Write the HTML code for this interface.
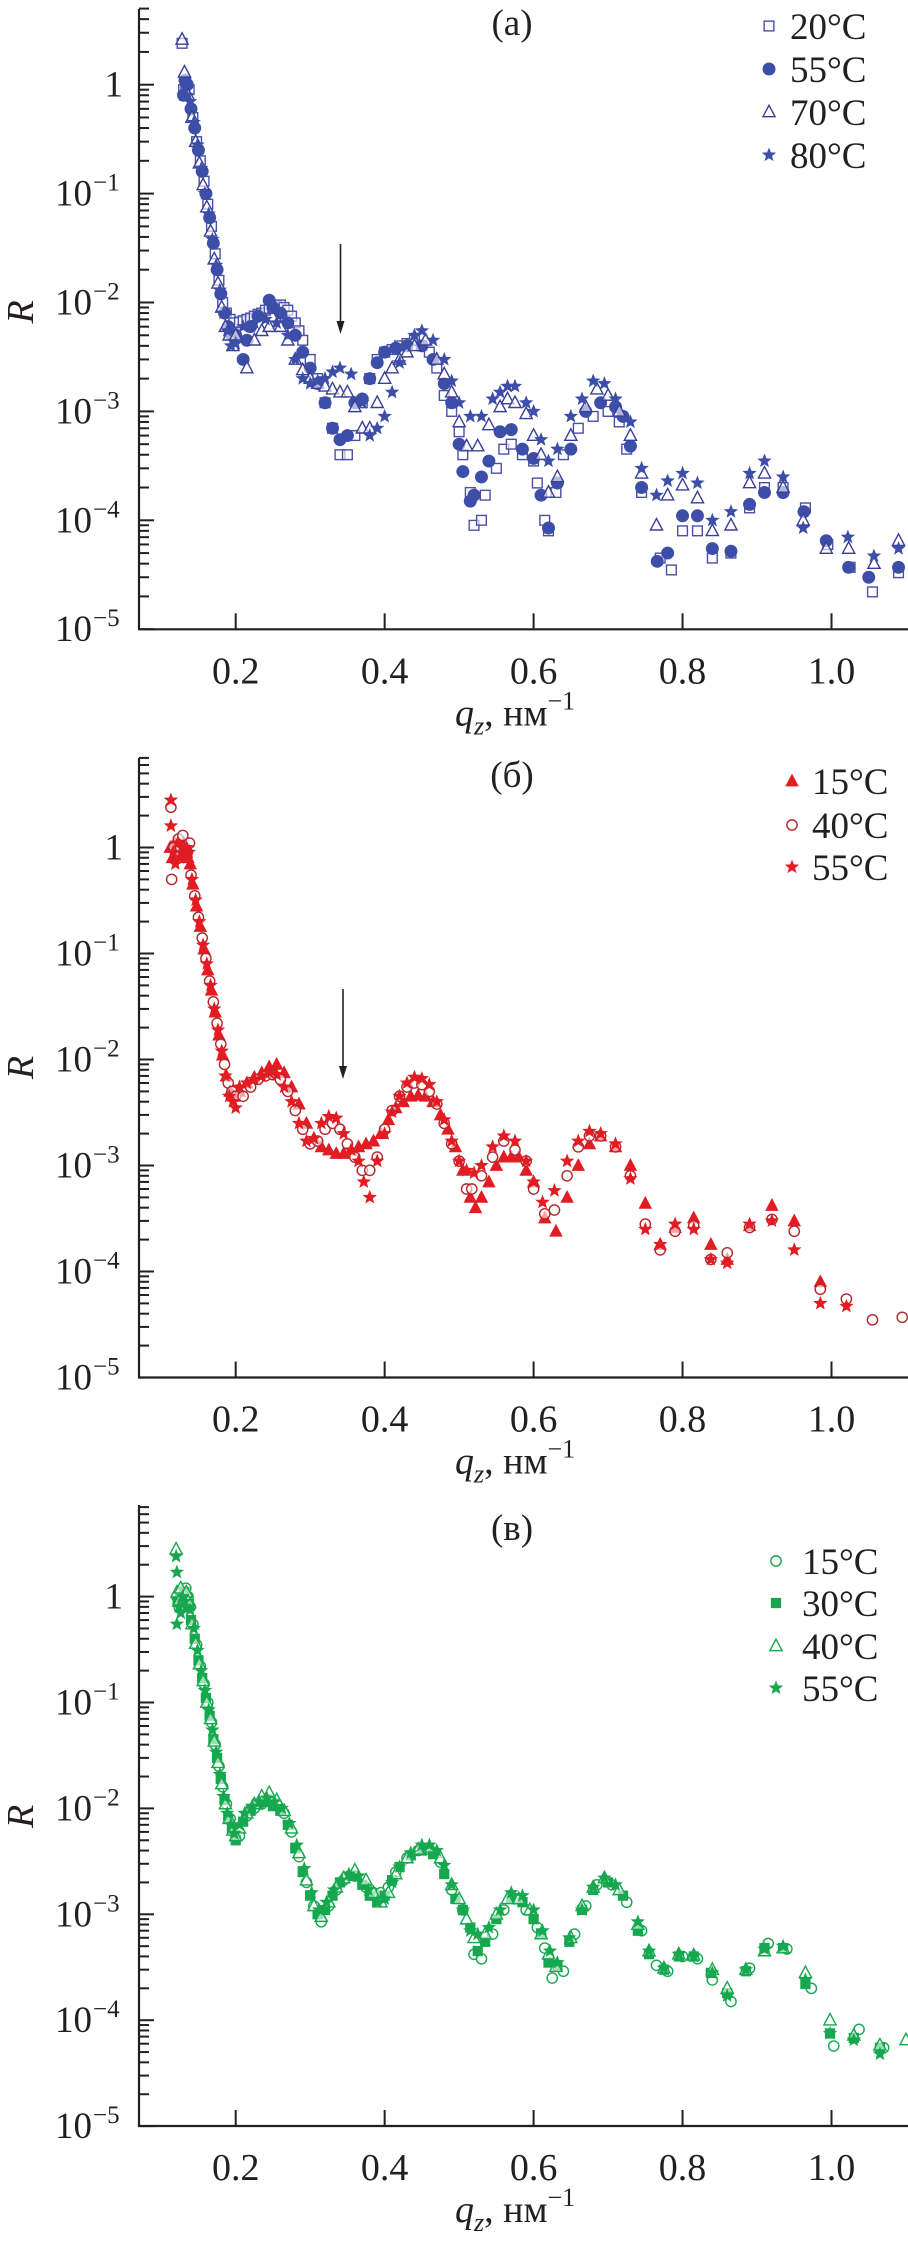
<!DOCTYPE html>
<html><head><meta charset="utf-8"><style>
html,body{margin:0;padding:0;background:#fff}
svg{display:block}
text{font-family:"Liberation Serif",serif;fill:#231f20}
</style></head><body>
<svg id="fig" width="908" height="2251" viewBox="0 0 908 2251" xmlns="http://www.w3.org/2000/svg"></svg>
<script>
// ---------- data: [q (nm^-1), R] ----------
const xTicks=[0.2,0.4,0.6,0.8,1.0];
const xTickLabels=["0.2","0.4","0.6","0.8","1.0"];
const yDecades=[0,-1,-2,-3,-4,-5];
const yTickLabels=["1","10","10","10","10","10"];
const yTickSups=["","−1","−2","−3","−4","−5"];

const a20=[[0.128,2.4],[0.13,0.9],[0.133,1.0],[0.1375,0.9],[0.1425,0.5],[0.1475,0.3],[0.1525,0.2],[0.1575,0.13],[0.1625,0.08],[0.1675,0.05],[0.1725,0.028],[0.1775,0.016],[0.1825,0.01],[0.1875,0.008],[0.1925,0.007],[0.1975,0.0065],[0.205,0.0066],[0.21,0.0068],[0.215,0.007],[0.22,0.0072],[0.225,0.0075],[0.23,0.0078],[0.235,0.008],[0.24,0.0085],[0.245,0.0088],[0.25,0.009],[0.255,0.0093],[0.26,0.0095],[0.265,0.009],[0.27,0.0085],[0.275,0.0075],[0.28,0.0065],[0.285,0.0055],[0.29,0.0045],[0.30,0.003],[0.31,0.002],[0.32,0.0012],[0.33,0.0007],[0.34,0.0004],[0.35,0.0004],[0.36,0.0006],[0.37,0.0012],[0.38,0.002],[0.39,0.003],[0.40,0.0035],[0.41,0.0037],[0.42,0.004],[0.43,0.0042],[0.44,0.0045],[0.45,0.004],[0.46,0.0035],[0.47,0.0025],[0.48,0.0014],[0.49,0.001],[0.50,0.00065],[0.505,0.0004],[0.515,0.00018],[0.52,0.00009],[0.53,0.0001],[0.535,0.00017],[0.55,0.0003],[0.56,0.00045],[0.57,0.0005],[0.585,0.0004],[0.6,0.00035],[0.605,0.00022],[0.615,0.0001],[0.62,0.00008],[0.63,0.00018],[0.64,0.0004],[0.66,0.0007],[0.68,0.0009],[0.70,0.001],[0.715,0.0008],[0.725,0.00045],[0.745,0.00018],[0.77,0.000045],[0.785,0.000035],[0.8,0.00008],[0.82,0.00008],[0.84,0.000045],[0.865,0.00005],[0.89,0.00013],[0.91,0.0002],[0.935,0.0002],[0.965,0.00013],[0.995,0.00006],[1.025,0.000037],[1.055,0.000022],[1.09,0.000033]];
const a55=[[0.13,0.8],[0.132,1.1],[0.135,1.0],[0.14,0.6],[0.145,0.4],[0.15,0.25],[0.155,0.16],[0.16,0.1],[0.165,0.06],[0.17,0.035],[0.175,0.02],[0.18,0.012],[0.185,0.008],[0.19,0.006],[0.195,0.005],[0.2,0.005],[0.21,0.003],[0.215,0.0045],[0.22,0.006],[0.23,0.0075],[0.245,0.0105],[0.25,0.009],[0.26,0.008],[0.27,0.0065],[0.28,0.005],[0.29,0.0035],[0.3,0.0025],[0.31,0.0018],[0.32,0.0012],[0.33,0.0007],[0.34,0.00055],[0.35,0.0006],[0.36,0.0012],[0.37,0.0013],[0.38,0.002],[0.39,0.0028],[0.40,0.0035],[0.415,0.0038],[0.43,0.004],[0.45,0.004],[0.465,0.003],[0.48,0.0018],[0.49,0.0012],[0.5,0.0005],[0.505,0.00028],[0.515,0.00015],[0.52,0.00017],[0.53,0.00025],[0.54,0.00035],[0.555,0.00065],[0.57,0.00068],[0.585,0.00045],[0.6,0.00037],[0.61,0.00017],[0.62,0.000085],[0.632,0.00022],[0.65,0.00045],[0.67,0.001],[0.69,0.0012],[0.71,0.0011],[0.72,0.0009],[0.73,0.00048],[0.745,0.0002],[0.766,0.000042],[0.78,0.00005],[0.8,0.00011],[0.82,0.00011],[0.84,0.000055],[0.865,0.000052],[0.89,0.00014],[0.91,0.00018],[0.935,0.00018],[0.963,0.00012],[0.993,0.000065],[1.023,0.000037],[1.05,0.00003],[1.09,0.000037]];
const a70=[[0.128,2.6],[0.1312,1.3],[0.1362,0.8],[0.1412,0.5],[0.1462,0.3],[0.1512,0.19],[0.1562,0.12],[0.1612,0.075],[0.1662,0.045],[0.1712,0.025],[0.1762,0.015],[0.1812,0.009],[0.1862,0.006],[0.1912,0.005],[0.1962,0.004],[0.2,0.005],[0.215,0.0025],[0.225,0.0045],[0.235,0.0055],[0.245,0.006],[0.26,0.006],[0.27,0.0045],[0.28,0.003],[0.29,0.0024],[0.3,0.002],[0.31,0.0018],[0.32,0.0017],[0.33,0.0016],[0.34,0.0015],[0.35,0.0015],[0.36,0.0011],[0.37,0.0007],[0.38,0.0007],[0.39,0.0012],[0.40,0.002],[0.41,0.0025],[0.42,0.003],[0.43,0.0035],[0.44,0.004],[0.455,0.0045],[0.47,0.003],[0.48,0.0022],[0.49,0.0015],[0.5,0.0008],[0.51,0.00048],[0.525,0.00048],[0.54,0.00075],[0.555,0.0011],[0.565,0.0013],[0.575,0.0012],[0.59,0.00095],[0.6,0.0006],[0.61,0.0004],[0.62,0.00018],[0.632,0.00025],[0.65,0.0006],[0.67,0.0011],[0.685,0.0016],[0.7,0.0014],[0.715,0.001],[0.73,0.0006],[0.745,0.00027],[0.765,0.00009],[0.78,0.00017],[0.8,0.00021],[0.82,0.00016],[0.84,0.00008],[0.865,0.00009],[0.89,0.00022],[0.91,0.00027],[0.935,0.0002],[0.962,0.0001],[0.993,0.000055],[1.023,0.000055],[1.057,0.00004],[1.09,0.000065]];
const a80=[[0.13,0.8],[0.1337,0.8],[0.1387,0.7],[0.1437,0.45],[0.1487,0.28],[0.1537,0.17],[0.1587,0.1],[0.1637,0.065],[0.1687,0.038],[0.1737,0.022],[0.1787,0.013],[0.1837,0.008],[0.1887,0.0055],[0.1937,0.004],[0.2,0.0042],[0.21,0.006],[0.225,0.0065],[0.24,0.007],[0.255,0.0065],[0.27,0.005],[0.28,0.003],[0.29,0.002],[0.3,0.0018],[0.31,0.0019],[0.32,0.002],[0.33,0.0023],[0.34,0.0025],[0.355,0.0022],[0.37,0.0012],[0.38,0.0006],[0.39,0.0007],[0.4,0.0009],[0.41,0.0015],[0.42,0.0028],[0.43,0.004],[0.44,0.005],[0.45,0.0055],[0.465,0.0045],[0.48,0.003],[0.49,0.0019],[0.5,0.0012],[0.515,0.0009],[0.53,0.0009],[0.545,0.0013],[0.555,0.0015],[0.565,0.0017],[0.575,0.0017],[0.59,0.0012],[0.6,0.001],[0.61,0.00055],[0.62,0.00035],[0.632,0.00045],[0.65,0.0009],[0.665,0.0013],[0.68,0.0019],[0.695,0.0018],[0.71,0.0013],[0.73,0.0008],[0.745,0.0003],[0.765,0.00017],[0.78,0.00023],[0.8,0.00027],[0.82,0.00022],[0.84,0.0001],[0.865,0.00012],[0.89,0.00027],[0.91,0.00035],[0.935,0.00025],[0.962,0.000085],[1.022,0.00007],[1.057,0.000047],[1.09,0.000055]];

const b15=[[0.112,1.0],[0.115,0.8],[0.118,1.1],[0.121,0.9],[0.124,1.0],[0.127,0.85],[0.13,1.1],[0.133,0.9],[0.136,0.8],[0.139,0.7],[0.1425,0.45],[0.1475,0.28],[0.1525,0.18],[0.1575,0.11],[0.1625,0.07],[0.1675,0.045],[0.1725,0.028],[0.1775,0.017],[0.1825,0.011],[0.1875,0.007],[0.1925,0.005],[0.1975,0.0045],[0.205,0.005],[0.215,0.006],[0.225,0.0068],[0.235,0.0075],[0.245,0.0085],[0.255,0.009],[0.265,0.0075],[0.275,0.0055],[0.285,0.0038],[0.295,0.0025],[0.305,0.0018],[0.315,0.0015],[0.325,0.0014],[0.335,0.0013],[0.345,0.0013],[0.355,0.0014],[0.365,0.0015],[0.375,0.0016],[0.385,0.0017],[0.395,0.002],[0.405,0.0027],[0.415,0.0035],[0.425,0.004],[0.435,0.0045],[0.445,0.0046],[0.455,0.0045],[0.465,0.004],[0.475,0.003],[0.485,0.0022],[0.495,0.0015],[0.505,0.0009],[0.515,0.0005],[0.522,0.0004],[0.53,0.0005],[0.54,0.0007],[0.55,0.001],[0.56,0.0012],[0.57,0.0012],[0.58,0.0012],[0.59,0.0009],[0.60,0.0007],[0.615,0.00032],[0.63,0.00024],[0.645,0.0005],[0.66,0.001],[0.675,0.0016],[0.69,0.0019],[0.71,0.0015],[0.73,0.001],[0.75,0.00044],[0.77,0.00018],[0.79,0.00026],[0.815,0.00032],[0.838,0.00018],[0.86,0.00013],[0.89,0.00027],[0.92,0.00042],[0.95,0.0003],[0.985,0.00008]];
const b40=[[0.113,2.4],[0.114,0.5],[0.117,1.0],[0.12,0.9],[0.123,1.2],[0.126,1.0],[0.129,1.3],[0.132,1.0],[0.135,0.9],[0.138,1.1],[0.14,0.55],[0.145,0.35],[0.15,0.22],[0.155,0.14],[0.16,0.09],[0.165,0.055],[0.17,0.035],[0.175,0.022],[0.18,0.014],[0.185,0.009],[0.19,0.006],[0.195,0.005],[0.2,0.0045],[0.21,0.0045],[0.22,0.0055],[0.23,0.0065],[0.24,0.007],[0.25,0.0072],[0.26,0.0065],[0.27,0.005],[0.28,0.0033],[0.29,0.0022],[0.3,0.0016],[0.31,0.0017],[0.32,0.0022],[0.33,0.0025],[0.34,0.0022],[0.35,0.0016],[0.36,0.0012],[0.37,0.0009],[0.38,0.0009],[0.39,0.0012],[0.4,0.0022],[0.41,0.0033],[0.42,0.0045],[0.43,0.0055],[0.44,0.006],[0.45,0.0058],[0.46,0.005],[0.47,0.0038],[0.48,0.0025],[0.49,0.0016],[0.5,0.0011],[0.51,0.0006],[0.517,0.0006],[0.53,0.0008],[0.545,0.0012],[0.56,0.0017],[0.575,0.0014],[0.59,0.0011],[0.6,0.0006],[0.615,0.00035],[0.628,0.00038],[0.645,0.0008],[0.66,0.0015],[0.675,0.0019],[0.69,0.0019],[0.71,0.0015],[0.73,0.0008],[0.75,0.00028],[0.77,0.00016],[0.79,0.00024],[0.815,0.00027],[0.838,0.00013],[0.86,0.00015],[0.89,0.00026],[0.92,0.00031],[0.95,0.00024],[0.985,0.000068],[1.02,0.000055],[1.055,0.000035],[1.095,0.000037]];
const b55=[[0.113,2.8],[0.113,1.6],[0.116,0.9],[0.119,0.7],[0.122,1.1],[0.125,0.8],[0.128,1.0],[0.131,0.8],[0.134,1.0],[0.137,0.9],[0.1412,0.5],[0.1462,0.32],[0.1512,0.2],[0.1562,0.12],[0.1612,0.08],[0.1662,0.05],[0.1712,0.03],[0.1762,0.019],[0.1812,0.012],[0.1862,0.007],[0.1912,0.0045],[0.1962,0.004],[0.2,0.0035],[0.205,0.0055],[0.215,0.006],[0.225,0.0065],[0.235,0.007],[0.245,0.0075],[0.255,0.0072],[0.265,0.0055],[0.275,0.004],[0.285,0.0025],[0.295,0.0017],[0.305,0.0018],[0.315,0.0025],[0.325,0.0029],[0.335,0.0028],[0.345,0.002],[0.355,0.0014],[0.365,0.0011],[0.372,0.0007],[0.38,0.0005],[0.39,0.0011],[0.4,0.002],[0.41,0.0032],[0.42,0.0045],[0.43,0.006],[0.44,0.0068],[0.45,0.0066],[0.46,0.0058],[0.47,0.004],[0.48,0.0027],[0.49,0.0017],[0.5,0.0011],[0.51,0.0009],[0.52,0.00085],[0.53,0.001],[0.545,0.0015],[0.56,0.0019],[0.575,0.0017],[0.59,0.0011],[0.6,0.0007],[0.612,0.00045],[0.628,0.00058],[0.645,0.0011],[0.66,0.0017],[0.675,0.0021],[0.69,0.002],[0.71,0.0016],[0.73,0.00075],[0.75,0.00025],[0.77,0.00018],[0.79,0.00028],[0.815,0.00025],[0.838,0.00013],[0.86,0.00012],[0.89,0.00028],[0.92,0.0003],[0.95,0.00016],[0.985,0.00005],[1.02,0.000047]];

const c15=[[0.121,1.0],[0.124,0.8],[0.127,1.1],[0.13,0.9],[0.133,1.2],[0.136,1.0],[0.139,0.8],[0.1425,0.55],[0.1475,0.35],[0.1525,0.22],[0.1575,0.15],[0.1625,0.1],[0.1675,0.065],[0.1725,0.04],[0.1775,0.025],[0.1825,0.016],[0.1875,0.011],[0.1925,0.008],[0.1975,0.006],[0.205,0.0055],[0.215,0.0085],[0.225,0.01],[0.235,0.011],[0.245,0.012],[0.255,0.011],[0.265,0.009],[0.275,0.006],[0.285,0.0035],[0.295,0.002],[0.305,0.0012],[0.315,0.00085],[0.325,0.0012],[0.335,0.0017],[0.345,0.0021],[0.36,0.0023],[0.375,0.0018],[0.385,0.0016],[0.395,0.0016],[0.405,0.0018],[0.415,0.0025],[0.43,0.0034],[0.445,0.004],[0.46,0.0041],[0.475,0.0031],[0.49,0.0017],[0.505,0.0011],[0.52,0.00042],[0.53,0.00038],[0.545,0.00065],[0.56,0.0011],[0.575,0.0014],[0.59,0.0011],[0.605,0.00075],[0.615,0.00048],[0.625,0.00025],[0.64,0.00029],[0.655,0.00065],[0.67,0.0012],[0.685,0.0019],[0.705,0.0019],[0.725,0.0013],[0.745,0.0007],[0.765,0.00033],[0.78,0.00029],[0.8,0.0004],[0.82,0.00038],[0.84,0.00024],[0.865,0.00015],[0.89,0.00031],[0.915,0.00053],[0.94,0.00047],[0.973,0.0002],[1.003,0.000057],[1.037,0.000082],[1.07,0.000055]];
const c30=[[0.122,0.9],[0.125,1.0],[0.128,0.8],[0.131,1.1],[0.134,0.9],[0.137,0.85],[0.14,0.6],[0.145,0.4],[0.15,0.25],[0.155,0.17],[0.16,0.11],[0.165,0.075],[0.17,0.045],[0.175,0.03],[0.18,0.019],[0.185,0.012],[0.19,0.008],[0.195,0.0065],[0.2,0.005],[0.21,0.0075],[0.22,0.0095],[0.23,0.011],[0.24,0.0115],[0.25,0.0105],[0.26,0.0095],[0.27,0.007],[0.28,0.0042],[0.29,0.0025],[0.3,0.0015],[0.31,0.001],[0.32,0.0011],[0.33,0.0015],[0.34,0.002],[0.355,0.0023],[0.37,0.0019],[0.38,0.0015],[0.39,0.0013],[0.4,0.0015],[0.41,0.0021],[0.42,0.0028],[0.435,0.0036],[0.45,0.004],[0.465,0.0037],[0.48,0.0024],[0.495,0.0014],[0.505,0.0011],[0.515,0.00075],[0.525,0.00045],[0.535,0.00055],[0.55,0.0009],[0.57,0.0014],[0.585,0.0013],[0.6,0.0009],[0.61,0.00065],[0.62,0.00035],[0.632,0.00032],[0.648,0.00055],[0.665,0.0011],[0.68,0.0017],[0.7,0.002],[0.72,0.0015],[0.74,0.0007],[0.755,0.00042],[0.775,0.0003],[0.795,0.0004],[0.815,0.0004],[0.838,0.00028],[0.86,0.00018],[0.885,0.00029],[0.91,0.00048],[0.935,0.00048],[0.965,0.00022],[0.998,0.000075],[1.03,0.000068],[1.065,0.000055]];
const c40=[[0.12,2.8],[0.1212,1.1],[0.1237,0.9],[0.1262,1.2],[0.1287,0.8],[0.1312,1.0],[0.1337,1.1],[0.1362,0.9],[0.1412,0.55],[0.1462,0.36],[0.1512,0.23],[0.1562,0.16],[0.1612,0.1],[0.1662,0.07],[0.1712,0.043],[0.1762,0.027],[0.1812,0.017],[0.1862,0.011],[0.1912,0.008],[0.1962,0.0062],[0.2,0.0055],[0.205,0.0065],[0.215,0.009],[0.225,0.011],[0.235,0.013],[0.245,0.014],[0.255,0.012],[0.265,0.0095],[0.275,0.0065],[0.285,0.0038],[0.295,0.0021],[0.305,0.0012],[0.315,0.00095],[0.325,0.0013],[0.335,0.0018],[0.345,0.0022],[0.36,0.0026],[0.375,0.0021],[0.385,0.0016],[0.395,0.0013],[0.405,0.0016],[0.415,0.0024],[0.43,0.0034],[0.445,0.0041],[0.46,0.0043],[0.475,0.0034],[0.49,0.0019],[0.5,0.0014],[0.51,0.0009],[0.52,0.0006],[0.535,0.00065],[0.55,0.001],[0.565,0.0014],[0.58,0.0014],[0.595,0.0011],[0.61,0.00065],[0.62,0.00042],[0.63,0.00032],[0.65,0.0006],[0.665,0.0012],[0.68,0.0018],[0.695,0.0022],[0.715,0.0017],[0.74,0.0008],[0.755,0.00045],[0.775,0.00031],[0.795,0.00042],[0.815,0.00041],[0.84,0.0003],[0.86,0.0002],[0.885,0.0003],[0.91,0.00045],[0.935,0.00048],[0.965,0.00028],[0.998,0.0001],[1.03,0.000072],[1.065,0.000058],[1.1,0.000065]];
const c55=[[0.12,2.4],[0.121,1.7],[0.121,0.55],[0.1237,0.8],[0.1262,0.7],[0.1287,1.0],[0.1312,0.9],[0.1337,0.8],[0.1387,0.75],[0.1437,0.5],[0.1487,0.31],[0.1537,0.2],[0.1587,0.13],[0.1637,0.085],[0.1687,0.055],[0.1737,0.034],[0.1787,0.021],[0.1837,0.013],[0.1887,0.009],[0.1937,0.007],[0.198,0.0058],[0.205,0.007],[0.212,0.009],[0.222,0.0105],[0.232,0.0115],[0.242,0.0125],[0.252,0.0115],[0.262,0.01],[0.272,0.0072],[0.282,0.0045],[0.292,0.0027],[0.302,0.0016],[0.312,0.0011],[0.322,0.0013],[0.332,0.0017],[0.342,0.0021],[0.352,0.0024],[0.365,0.0023],[0.378,0.0017],[0.39,0.0013],[0.4,0.0014],[0.41,0.002],[0.42,0.0028],[0.435,0.0038],[0.45,0.0045],[0.46,0.0045],[0.47,0.004],[0.48,0.0029],[0.49,0.0019],[0.505,0.0011],[0.515,0.0007],[0.525,0.00065],[0.54,0.00075],[0.555,0.0011],[0.57,0.0016],[0.585,0.0015],[0.6,0.0011],[0.612,0.0007],[0.622,0.00045],[0.632,0.00035],[0.648,0.0006],[0.665,0.0011],[0.68,0.0018],[0.695,0.0022],[0.71,0.0019],[0.74,0.00085],[0.755,0.00045],[0.775,0.00031],[0.795,0.00042],[0.815,0.0004],[0.84,0.00028],[0.86,0.00017],[0.885,0.0003],[0.91,0.00047],[0.935,0.0005],[0.965,0.00024],[0.998,0.000075],[1.03,0.000065],[1.065,0.000048]];

// ---------- drawing ----------
const NS="http://www.w3.org/2000/svg";
const fig=document.getElementById('fig');
function mk(tag,attrs,parent){const e=document.createElementNS(NS,tag);for(const k in attrs)e.setAttribute(k,attrs[k]);(parent||fig).appendChild(e);return e;}

const X0=139, XR=908;
function xScale(q){return 235.7+(q-0.2)*744.75;}
const S=1.35;

function marker(g,type,cx,cy,color,name){
  let e;
  if(type==='square'){const h=3.6*S;e=mk('rect',{x:cx-h,y:cy-h,width:2*h,height:2*h,fill:'#fff','fill-opacity':0.6,stroke:color,'stroke-width':1.4},g);}
  else if(type==='circle'){e=mk('circle',{cx:cx,cy:cy,r:4.8*S,fill:color},g);}
  else if(type==='ocircle'){e=mk('circle',{cx:cx,cy:cy,r:3.8*S,fill:'#fff','fill-opacity':0.6,stroke:color,'stroke-width':1.4},g);}
  else if(type==='fsquare'){const h=3.8*S;e=mk('rect',{x:cx-h,y:cy-h,width:2*h,height:2*h,fill:color},g);}
  else if(type==='otri'){e=mk('polygon',{points:`${cx},${cy-5*S} ${cx-4.5*S},${cy+3.5*S} ${cx+4.5*S},${cy+3.5*S}`,fill:'#fff','fill-opacity':0.6,stroke:color,'stroke-width':1.4},g);}
  else if(type==='ftri'){e=mk('polygon',{points:`${cx},${cy-5.5*S} ${cx-5*S},${cy+4*S} ${cx+5*S},${cy+4*S}`,fill:color},g);}
  else {
    let p=[];for(let i=0;i<10;i++){const r=(i%2?2.4:5.6)*S;const a=-Math.PI/2+i*Math.PI/5;p.push((cx+r*Math.cos(a)).toFixed(2)+','+(cy+r*Math.sin(a)).toFixed(2));}
    e=mk('polygon',{points:p.join(' '),fill:color},g);
  }
  
  
  return e;
}

function panel(cfg){
  const g=mk('g',{});
  
  
  const yS=(R)=>cfg.yOne-Math.log10(R)*cfg.dec;
  const sg=mk('g',{},g);
  
  
  cfg.series.forEach(s=>{
    const gg=mk('g',{},sg);
    
    
    s.data.forEach(d=>{const x=xScale(d[0]),y=yS(d[1]);if(x<XR+4&&y<cfg.bottom)marker(gg,s.type,x,y,s.color,'data-point');});
  });
  const ax=mk('path',{d:`M${X0},${cfg.top} V${cfg.bottom} H${XR}`,stroke:'#231f20','stroke-width':2.2,fill:'none'},g);
  
  
  for(let e=-5;e<=0;e++){
    for(let m=1;m<=9;m++){
      const y=yS(m*Math.pow(10,e));
      if(y<cfg.top-1||y>cfg.bottom+0.5)continue;
      const t=mk('line',{x1:X0,x2:X0+(m===1?15:10),y1:y,y2:y,stroke:'#231f20','stroke-width':2},g);
      
      
    }
  }
  for(let m=2;m<=9;m++){const y=yS(m*10);if(y<cfg.top-1)break;const t=mk('line',{x1:X0,x2:X0+10,y1:y,y2:y,stroke:'#231f20','stroke-width':2},g);}
  yDecades.forEach((d,i)=>{
    const y=yS(Math.pow(10,d));
    const t=mk('text',{x:i===0?123:92,y:y+12,'font-size':37,'text-anchor':'end'},g);
    t.textContent=yTickLabels[i];
    
    
    if(yTickSups[i]){const s=mk('text',{x:93,y:y-3,'font-size':25},g);s.textContent=yTickSups[i];}
  });
  xTicks.forEach((q,i)=>{
    const x=xScale(q);
    const t=mk('line',{x1:x,x2:x,y1:cfg.bottom,y2:cfg.bottom-16,stroke:'#231f20','stroke-width':2},g);
    
    
    const l=mk('text',{x:x,y:cfg.bottom+54,'font-size':38,'text-anchor':'middle'},g);
    l.textContent=xTickLabels[i];
    
    
  });
  const yt=mk('text',{x:0,y:0,'font-size':38,'font-style':'italic','text-anchor':'middle',transform:`translate(33,${cfg.yOne+2.5*cfg.dec-45}) rotate(-90)`},g);
  yt.textContent='R';
  
  
  const xt=mk('text',{x:455,y:cfg.bottom+96,'font-size':38},g);
  
  
  xt.innerHTML='<tspan font-style="italic">q</tspan><tspan font-style="italic" font-size="26" dy="9">z</tspan><tspan dy="-9">, нм</tspan><tspan font-size="26" dy="-16">−1</tspan>';
  const pl=mk('text',{x:512,y:cfg.labelY,'font-size':37,'text-anchor':'middle'},g);
  pl.textContent=cfg.label;
  
  
  cfg.series.forEach((s,i)=>{
    const y=cfg.legY[i];
    const lg=mk('g',{},g);
    
    
    marker(lg,s.type,cfg.legMX,y,s.color,'legend-marker');
    const t=mk('text',{x:cfg.legTX,y:y+13,'font-size':37},lg);
    t.textContent=s.label;
    
    
  });
  if(cfg.arrow){
    const a=cfg.arrow;
    const l=mk('line',{x1:a[0],x2:a[0],y1:a[1],y2:a[2]-10,stroke:'#231f20','stroke-width':1.6},g);
    
    
    const h=mk('polygon',{points:`${a[0]-4},${a[2]-13} ${a[0]+4},${a[2]-13} ${a[0]},${a[2]}`,fill:'#231f20'},g);
    
    
  }
}

const blue='#3d4ea8', red='#e31b23', dred='#b0282c', green='#16a84e';
panel({name:'panel-a',top:9,bottom:629.3,yOne:84.7,dec:108.9,label:'(a)',labelY:35,legMX:769,legTX:790,legY:[26,69,112,155],arrow:[340.5,244,334],
  series:[{label:'20°C',type:'square',color:'#4a4fa8',data:a20},{label:'55°C',type:'circle',color:blue,data:a55},{label:'70°C',type:'otri',color:'#3a3f96',data:a70},{label:'80°C',type:'star',color:blue,data:a80}]});
panel({name:'panel-b',top:758,bottom:1377.5,yOne:847.5,dec:106,label:'(б)',labelY:787,legMX:792,legTX:812,legY:[781,825,867],arrow:[343,989,1079],
  series:[{label:'15°C',type:'ftri',color:red,data:b15},{label:'40°C',type:'ocircle',color:dred,data:b40},{label:'55°C',type:'star',color:red,data:b55}]});
panel({name:'panel-c',top:1505,bottom:2126,yOne:1596.6,dec:105.9,label:'(в)',labelY:1540,legMX:776,legTX:802,legY:[1561,1603,1646,1688],
  series:[{label:'15°C',type:'ocircle',color:green,data:c15},{label:'30°C',type:'fsquare',color:green,data:c30},{label:'40°C',type:'otri',color:green,data:c40},{label:'55°C',type:'star',color:green,data:c55}]});
</script>
</body></html>
